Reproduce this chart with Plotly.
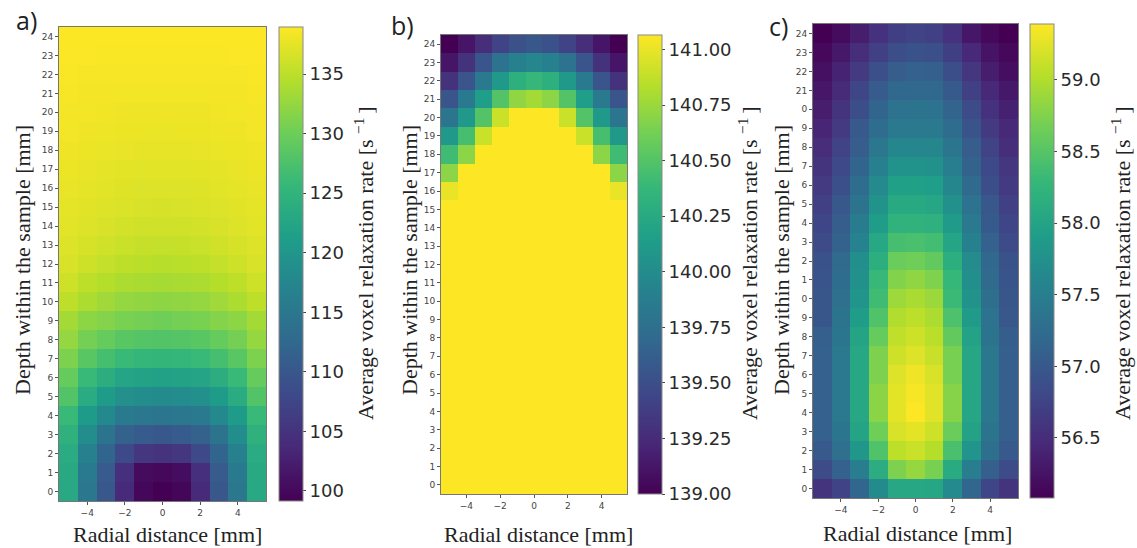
import plotly.graph_objects as go

W, H = 1137, 548

radial_mm = [-5, -4, -3, -2, -1, 0, 1, 2, 3, 4, 5]
depth_mm = list(range(25))
x_tick_vals = [-4, -2, 0, 2, 4]
x_tick_text = ["−4", "−2", "0", "2", "4"]
y_labels_full = [str(d) for d in depth_mm]
# panel c's labels are clipped by the neighbouring image in the original
y_labels_c = ["0", "1", "2", "3", "4", "5", "6", "7", "8", "9", "0", "1", "2", "3", "4",
              "5", "6", "7", "8", "9", "0", "21", "22", "23", "24"]

ticks_a = [100, 105, 110, 115, 120, 125, 130, 135]
ticks_b = [139.0, 139.25, 139.5, 139.75, 140.0, 140.25, 140.5, 140.75, 141.0]
ticks_c = [56.5, 57.0, 57.5, 58.0, 58.5, 59.0]

# rows run from depth 0 (bottom) to depth 24 (top)
z_a = [
    [123.0, 115.0, 110.0, 104.0, 99.8, 99.2, 99.7, 104.0, 110.0, 115.0, 123.0],
    [123.2, 115.5, 110.5, 104.5, 100.4, 100.0, 100.5, 104.5, 110.5, 115.5, 123.2],
    [123.5, 116.5, 112.0, 108.0, 105.5, 105.0, 105.5, 108.0, 112.0, 116.5, 123.5],
    [124.5, 118.5, 114.5, 111.5, 110.5, 110.0, 110.5, 111.5, 114.5, 118.5, 124.5],
    [126.0, 121.0, 118.0, 115.5, 115.0, 114.8, 115.0, 115.5, 118.0, 121.0, 126.0],
    [128.0, 123.5, 121.0, 119.0, 118.5, 118.2, 118.5, 119.0, 121.0, 123.5, 128.0],
    [129.5, 126.0, 124.0, 122.5, 122.0, 121.8, 122.0, 122.5, 124.0, 126.0, 129.5],
    [131.0, 128.5, 127.0, 126.0, 125.5, 125.3, 125.5, 126.0, 127.0, 128.5, 131.0],
    [132.5, 130.5, 129.5, 128.5, 128.2, 128.0, 128.2, 128.5, 129.5, 130.5, 132.5],
    [133.5, 132.0, 131.5, 130.8, 130.5, 130.2, 130.5, 130.8, 131.5, 132.0, 133.5],
    [135.0, 134.0, 133.2, 132.5, 132.3, 132.1, 132.3, 132.5, 133.2, 134.0, 135.0],
    [136.0, 135.0, 134.5, 134.0, 133.8, 133.6, 133.8, 134.0, 134.5, 135.0, 136.0],
    [136.7, 136.0, 135.5, 135.0, 134.8, 134.6, 134.8, 135.0, 135.5, 136.0, 136.7],
    [137.0, 136.5, 136.2, 135.8, 135.6, 135.5, 135.6, 135.8, 136.2, 136.5, 137.0],
    [137.3, 136.9, 136.6, 136.3, 136.2, 136.1, 136.2, 136.3, 136.6, 136.9, 137.3],
    [137.5, 137.2, 137.0, 136.8, 136.6, 136.5, 136.6, 136.8, 137.0, 137.2, 137.5],
    [137.7, 137.5, 137.3, 137.1, 137.0, 136.9, 137.0, 137.1, 137.3, 137.5, 137.7],
    [137.9, 137.7, 137.5, 137.4, 137.3, 137.3, 137.3, 137.4, 137.5, 137.7, 137.9],
    [138.1, 137.9, 137.8, 137.7, 137.6, 137.6, 137.6, 137.7, 137.8, 137.9, 138.1],
    [138.3, 138.1, 138.0, 137.9, 137.9, 137.8, 137.9, 137.9, 138.0, 138.1, 138.3],
    [138.4, 138.3, 138.2, 138.1, 138.1, 138.1, 138.1, 138.1, 138.2, 138.3, 138.4],
    [138.5, 138.4, 138.4, 138.3, 138.3, 138.3, 138.3, 138.3, 138.4, 138.4, 138.5],
    [138.7, 138.6, 138.5, 138.5, 138.5, 138.5, 138.5, 138.5, 138.5, 138.6, 138.7],
    [138.8, 138.8, 138.7, 138.7, 138.7, 138.7, 138.7, 138.7, 138.7, 138.8, 138.8],
    [138.9, 138.9, 138.9, 138.9, 138.9, 138.9, 138.9, 138.9, 138.9, 138.9, 138.9],
]

sat = 141.07
z_b = [[sat] * 11 for _ in range(16)] + [
    [141.0, sat, sat, sat, sat, sat, sat, sat, sat, sat, 141.0],
    [140.7, sat, sat, sat, sat, sat, sat, sat, sat, sat, 140.7],
    [140.42, 140.7, sat, sat, sat, sat, sat, sat, sat, 140.7, 140.42],
    [140.1, 140.45, 140.9, sat, sat, sat, sat, sat, 140.9, 140.45, 140.1],
    [139.8, 140.1, 140.5, 140.9, sat, sat, sat, 140.9, 140.5, 140.1, 139.8],
    [139.55, 139.85, 140.15, 140.5, 140.72, 140.78, 140.7, 140.5, 140.15, 139.85, 139.55],
    [139.3, 139.55, 139.85, 140.1, 140.3, 140.38, 140.3, 140.1, 139.85, 139.55, 139.3],
    [139.12, 139.3, 139.55, 139.78, 139.9, 139.95, 139.9, 139.78, 139.55, 139.3, 139.12],
    [139.0, 139.12, 139.27, 139.42, 139.52, 139.57, 139.52, 139.42, 139.27, 139.12, 139.0],
]

z_c = [
    [56.58, 56.75, 57.17, 57.67, 58.05, 58.05, 58.03, 57.65, 57.17, 56.78, 56.58],
    [56.84, 57.1, 57.5, 58.13, 58.73, 58.86, 58.7, 58.1, 57.48, 57.08, 56.84],
    [57.0, 57.3, 57.83, 58.46, 59.06, 59.13, 59.02, 58.42, 57.8, 57.28, 57.0],
    [57.1, 57.38, 58.0, 58.65, 59.2, 59.26, 59.15, 58.62, 57.98, 57.35, 57.08],
    [57.1, 57.42, 58.05, 58.8, 59.26, 59.39, 59.24, 58.78, 58.03, 57.4, 57.08],
    [57.1, 57.42, 58.05, 58.8, 59.26, 59.36, 59.24, 58.78, 58.03, 57.4, 57.08],
    [57.1, 57.42, 58.05, 58.73, 59.22, 59.32, 59.2, 58.7, 58.03, 57.4, 57.08],
    [57.1, 57.42, 58.05, 58.73, 59.15, 59.22, 59.12, 58.7, 58.03, 57.4, 57.08],
    [57.08, 57.38, 58.0, 58.6, 59.08, 59.15, 59.05, 58.58, 57.98, 57.35, 57.06],
    [56.97, 57.35, 57.9, 58.46, 59.0, 59.06, 58.98, 58.44, 57.88, 57.32, 56.98],
    [56.97, 57.3, 57.8, 58.35, 58.9, 58.96, 58.88, 58.32, 57.78, 57.28, 56.97],
    [56.95, 57.25, 57.75, 58.3, 58.76, 58.83, 58.74, 58.28, 57.72, 57.22, 56.95],
    [56.92, 57.22, 57.72, 58.15, 58.62, 58.66, 58.58, 58.15, 57.68, 57.18, 56.92],
    [56.85, 57.12, 57.55, 58.05, 58.4, 58.42, 58.38, 58.02, 57.52, 57.1, 56.85],
    [56.78, 57.05, 57.45, 57.9, 58.22, 58.22, 58.18, 57.88, 57.42, 57.02, 56.78],
    [56.72, 56.98, 57.35, 57.78, 58.08, 58.08, 58.03, 57.75, 57.32, 56.98, 56.72],
    [56.65, 56.9, 57.25, 57.65, 57.95, 57.95, 57.92, 57.6, 57.22, 56.88, 56.65],
    [56.58, 56.82, 57.15, 57.52, 57.78, 57.78, 57.75, 57.5, 57.12, 56.82, 56.6],
    [56.5, 56.75, 57.05, 57.4, 57.6, 57.6, 57.6, 57.38, 57.05, 56.75, 56.52],
    [56.42, 56.65, 57.0, 57.25, 57.42, 57.42, 57.42, 57.25, 56.95, 56.65, 56.45],
    [56.35, 56.58, 56.88, 57.15, 57.33, 57.35, 57.33, 57.13, 56.85, 56.55, 56.38],
    [56.28, 56.48, 56.78, 57.03, 57.18, 57.2, 57.18, 57.02, 56.72, 56.45, 56.3],
    [56.22, 56.4, 56.65, 56.9, 57.05, 57.1, 57.08, 56.88, 56.6, 56.35, 56.2],
    [56.15, 56.3, 56.52, 56.72, 56.88, 56.92, 56.9, 56.7, 56.45, 56.25, 56.15],
    [56.08, 56.18, 56.35, 56.55, 56.7, 56.75, 56.72, 56.55, 56.28, 56.15, 56.08],
]

panels = [
    dict(z=z_a, zmin=99.16, zmax=138.95, ticks=ticks_a, fmt="d", ylabels=y_labels_full,
         box=(59, 266, 27, 501), cb=279, letter="a)", lx=26, ly=20,
         ytx=22, xtx=167, xty=534, cbx=364),
    dict(z=z_b, zmin=139.0, zmax=141.065, ticks=ticks_b, fmt=".2f", ylabels=y_labels_full,
         box=(441, 627, 35, 494), cb=638, letter="b)", lx=402, ly=25,
         ytx=409, xtx=538, xty=534, cbx=748),
    dict(z=z_c, zmin=56.08, zmax=59.39, ticks=ticks_c, fmt=".1f", ylabels=y_labels_c,
         box=(813, 1018, 24, 498), cb=1030, letter="c)", lx=778, ly=26,
         ytx=781, xtx=918, xty=533, cbx=1121),
]

SERIF = "Liberation Serif"
SANS = "DejaVu Sans"


def px(x):
    return x / W


def py(y):
    return 1 - y / H


fig = go.Figure()
annotations = []
layout_axes = {}

for i, p in enumerate(panels, start=1):
    x0, x1, y0, y1 = p["box"]
    xa, ya = f"x{i}", f"y{i}"
    fig.add_trace(go.Heatmap(
        x=radial_mm, y=depth_mm, z=p["z"], zmin=p["zmin"], zmax=p["zmax"],
        colorscale="Viridis", xaxis=xa, yaxis=ya,
        colorbar=dict(
            x=px(p["cb"]), xanchor="left", xref="paper", xpad=0, ypad=0,
            y=py(y1), yanchor="bottom", yref="paper",
            len=y1 - y0, lenmode="pixels", thickness=24, thicknessmode="pixels",
            outlinecolor="#8a8a8a", outlinewidth=1,
            tickmode="array", tickvals=p["ticks"],
            ticktext=[format(t, p["fmt"]) for t in p["ticks"]],
            ticks="outside", ticklen=3, tickcolor="#444", tickwidth=1,
            tickfont=dict(family=SANS, size=18, color="#2a2a2a"),
        ),
    ))
    layout_axes[f"xaxis{i}"] = dict(
        domain=[px(x0), px(x1)], anchor=ya, range=[-5.5, 5.5],
        tickmode="array", tickvals=x_tick_vals, ticktext=x_tick_text,
        ticks="outside", ticklen=3, tickwidth=1, tickcolor="#555",
        tickfont=dict(family=SANS, size=9, color="#444"),
        showgrid=False, zeroline=False, showline=True, linecolor="#777", linewidth=1, mirror=True,
    )
    layout_axes[f"yaxis{i}"] = dict(
        domain=[py(y1), py(y0)], anchor=xa, range=[-0.5, 24.5],
        tickmode="array", tickvals=depth_mm, ticktext=p["ylabels"],
        ticks="outside", ticklen=3, tickwidth=1, tickcolor="#555",
        tickfont=dict(family=SANS, size=9, color="#444"),
        showgrid=False, zeroline=False, showline=True, linecolor="#777", linewidth=1, mirror=True,
    )
    common = dict(xref="paper", yref="paper", showarrow=False, xanchor="center", yanchor="middle")
    annotations.append(dict(x=px(p["lx"]), y=py(p["ly"]), text=p["letter"],
                            font=dict(family="Open Sans", size=25, color="#222"), **common))
    annotations.append(dict(x=px(p["ytx"]), y=py(260), text="Depth within the sample [mm]", textangle=-90,
                            font=dict(family=SERIF, size=22, color="#222"), **common))
    annotations.append(dict(x=px(p["xtx"]), y=py(p["xty"]), text="Radial distance [mm]",
                            font=dict(family=SERIF, size=22, color="#222"), **common))
    annotations.append(dict(x=px(p["cbx"]), y=py(263),
                            text="Average voxel relaxation rate [s <sup>−1 </sup>]", textangle=-90,
                            font=dict(family=SERIF, size=22, color="#222"), **common))

fig.update_layout(
    width=W, height=H, margin=dict(l=0, r=0, t=0, b=0),
    paper_bgcolor="white", plot_bgcolor="white", showlegend=False,
    annotations=annotations, **layout_axes,
)
fig.write_html("out.html", config={"displayModeBar": False},
               post_script="document.body.style.margin='0';document.documentElement.style.overflow='hidden';")
